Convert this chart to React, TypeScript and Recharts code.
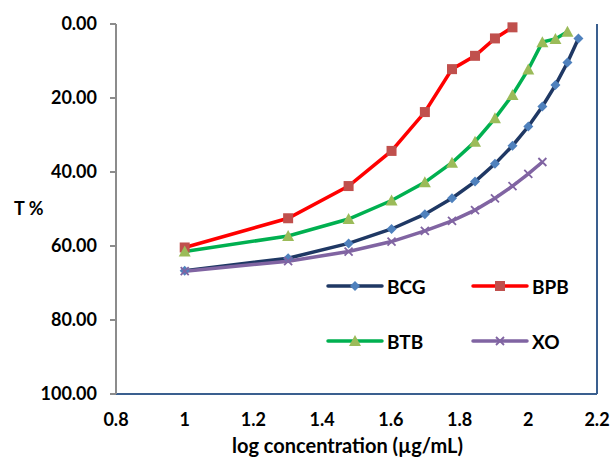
import { LineChart, Line, XAxis, YAxis, ReferenceLine } from 'recharts';

// x values: log of 10, 20, ... 140 µg/mL
const logConc = [1, 1.301, 1.477, 1.602, 1.699, 1.778, 1.845, 1.903, 1.954, 2.0, 2.041, 2.079, 2.114, 2.146];

const bcg = [66.7, 63.3, 59.3, 55.4, 51.4, 47.1, 42.6, 37.8, 32.9, 27.7, 22.3, 16.5, 10.4, 3.9];
const bpb = [60.4, 52.5, 43.8, 34.3, 23.8, 12.2, 8.6, 3.9, 0.9];
const btb = [61.5, 57.3, 52.7, 47.7, 42.8, 37.5, 31.8, 25.5, 19.2, 12.3, 4.9, 4.05, 2.1];
const xo = [66.8, 64.1, 61.5, 58.8, 55.9, 53.2, 50.3, 47.1, 43.8, 40.5, 37.3];

const xTicks = [0.8, 1, 1.2, 1.4, 1.6, 1.8, 2, 2.2];
const yTicks = [0, 20, 40, 60, 80, 100];

const FONT = 'Lato, "Open Sans", sans-serif';
const BORDER = '#3A5F8F';
const GREY = '#8C8C8C';

type Kind = 'diamond' | 'square' | 'triangle' | 'x';

function marker(kind: Kind, cx: number, cy: number, fill: string, key?: string | number) {
  if (kind === 'diamond') {
    return <path key={key} d={`M${cx},${cy - 5}L${cx + 5},${cy}L${cx},${cy + 5}L${cx - 5},${cy}Z`} fill={fill} />;
  }
  if (kind === 'square') {
    return <rect key={key} x={cx - 5} y={cy - 5} width={10} height={10} fill={fill} />;
  }
  if (kind === 'triangle') {
    return <path key={key} d={`M${cx},${cy - 6}L${cx + 6},${cy + 5}L${cx - 6},${cy + 5}Z`} fill={fill} />;
  }
  return (
    <path
      key={key}
      d={`M${cx - 4},${cy - 4}L${cx + 4},${cy + 4}M${cx + 4},${cy - 4}L${cx - 4},${cy + 4}`}
      stroke={fill}
      strokeWidth={1.8}
      fill="none"
    />
  );
}

const series = [
  { name: 'BCG', values: bcg, line: '#1F3864', fill: '#4F81BD', kind: 'diamond' as Kind },
  { name: 'BPB', values: bpb, line: '#FF0000', fill: '#C0504D', kind: 'square' as Kind },
  { name: 'BTB', values: btb, line: '#00B050', fill: '#9BBB59', kind: 'triangle' as Kind },
  { name: 'XO', values: xo, line: '#8064A2', fill: '#8064A2', kind: 'x' as Kind },
];

// legend drawn as an overlay so it doesn't shrink the plot area
function LegendBox() {
  return (
    <div
      style={{
        position: 'absolute',
        left: 327,
        top: 274,
        display: 'grid',
        gridTemplateColumns: '145px 110px',
        rowGap: 31,
        fontFamily: FONT,
      }}
    >
      {series.map((s) => (
        <div key={s.name} style={{ display: 'flex', alignItems: 'center', height: 24 }}>
          <svg width={56} height={14} style={{ overflow: 'visible' }}>
            <line x1={1} y1={7} x2={55} y2={7} stroke={s.line} strokeWidth={3.5} strokeLinecap="round" />
            {marker(s.kind, 28, 7, s.fill)}
          </svg>
          <span style={{ marginLeft: 4, fontSize: 19, fontWeight: 700, color: '#000' }}>{s.name}</span>
        </div>
      ))}
    </div>
  );
}

export default function App() {
  const tickStyle = { fontFamily: FONT, fontSize: 18, fontWeight: 700, fill: '#000' };
  return (
    <div style={{ position: 'absolute', left: 0, top: 0, width: 614, height: 457, background: '#fff' }}>
      <LineChart width={614} height={457} margin={{ top: 24, right: 17, bottom: 0, left: 0 }}>
        <XAxis
          xAxisId="top"
          orientation="top"
          type="number"
          dataKey="x"
          domain={[0.8, 2.2]}
          ticks={xTicks}
          height={0}
          tickSize={6}
          tickFormatter={() => ''}
          axisLine={{ stroke: GREY, strokeWidth: 2 }}
          tickLine={{ stroke: GREY, strokeWidth: 2 }}
          allowDataOverflow
        />
        <XAxis
          xAxisId="bottom"
          orientation="bottom"
          type="number"
          dataKey="x"
          domain={[0.8, 2.2]}
          ticks={xTicks}
          height={63}
          tickSize={0}
          tickMargin={19}
          tick={tickStyle}
          axisLine={{ stroke: BORDER, strokeWidth: 2 }}
          tickLine={false}
          allowDataOverflow
          label={{
            value: 'log concentration (µg/mL)',
            position: 'insideBottom',
            offset: 4,
            dx: -9,
            style: { fontFamily: FONT, fontSize: 20, fontWeight: 700, fill: '#000' },
          }}
        />
        <YAxis
          type="number"
          domain={[0, 100]}
          ticks={yTicks}
          reversed
          width={116}
          tickSize={6}
          tickMargin={13}
          tick={tickStyle}
          tickFormatter={(v: number) => v.toFixed(2)}
          axisLine={{ stroke: GREY, strokeWidth: 2 }}
          tickLine={{ stroke: GREY, strokeWidth: 2 }}
          label={{
            value: 'T %',
            position: 'insideLeft',
            offset: 14,
            style: { fontFamily: FONT, fontSize: 18, fontWeight: 700, fill: '#000' },
          }}
        />
        <ReferenceLine xAxisId="bottom" x={2.2} stroke={BORDER} strokeWidth={2} />
        {series.map((s) => (
          <Line
            key={s.name}
            xAxisId="bottom"
            name={s.name}
            data={s.values.map((y, i) => ({ x: logConc[i], y }))}
            dataKey="y"
            type="linear"
            stroke={s.line}
            strokeWidth={3.5}
            dot={(p: any) => marker(s.kind, p.cx, p.cy, s.fill, `${s.name}-${p.index}`)}
            activeDot={false}
            isAnimationActive={false}
          />
        ))}
      </LineChart>
      <LegendBox />
    </div>
  );
}
